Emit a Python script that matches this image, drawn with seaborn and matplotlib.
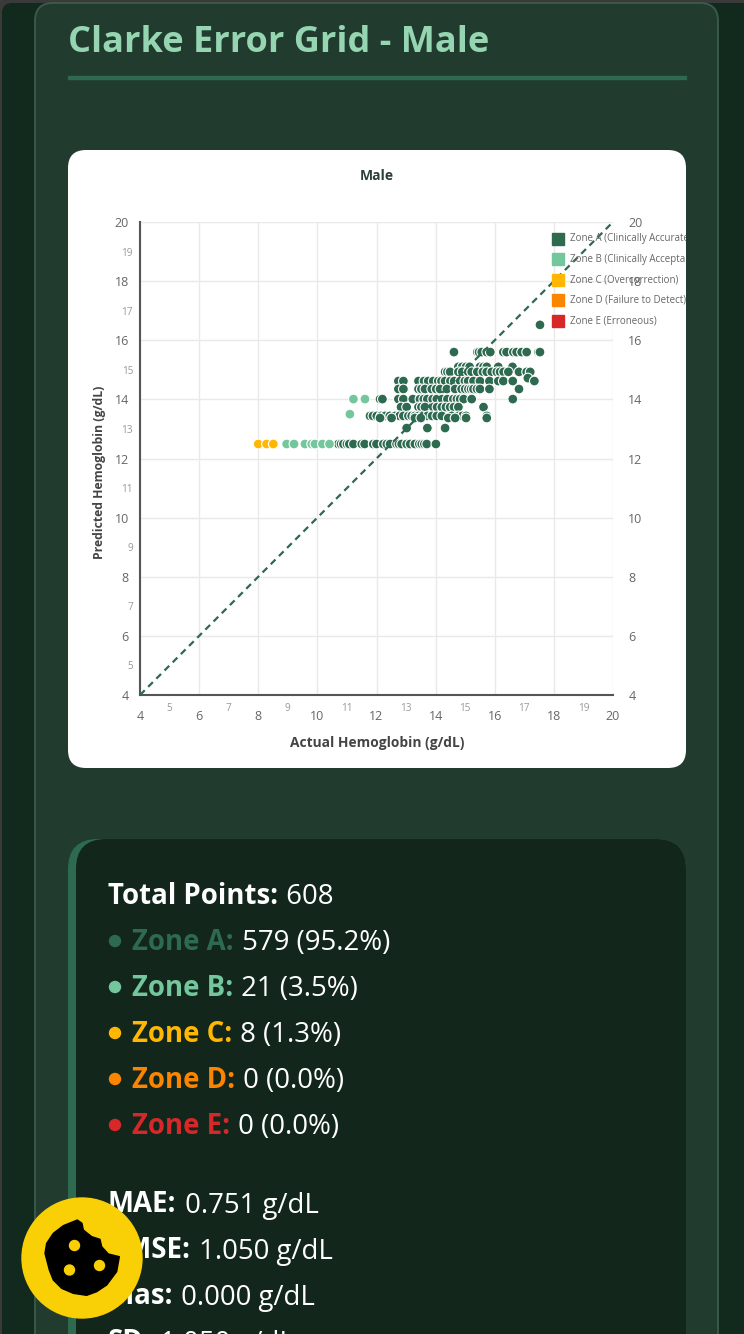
import numpy as np
import pandas as pd
import seaborn as sns
import matplotlib.pyplot as plt
from matplotlib.patches import FancyBboxPatch, Rectangle, Circle, Polygon

W, H = 744, 1334
FONT = ['Open Sans', 'DejaVu Sans']

# predicted value of each row, and the actual values
zone_a_rows = {
    16.52: [17.53],
    15.60: [14.62, 15.41, 15.47, 15.56, 15.73, 15.85, 16.29, 16.40, 16.63, 16.74, 16.91, 17.08, 17.48, 17.53],
    15.10: [14.77, 14.90, 15.03, 15.15, 15.50, 15.62, 15.73, 16.12, 16.60],
    14.93: [14.32, 14.40, 14.49, 14.77, 14.90, 15.10, 15.22, 15.41, 15.60, 15.73, 15.90, 16.07, 16.18, 16.30, 16.46, 16.82, 17.08, 17.20],
    14.72: [17.12],
    14.62: [12.74, 12.91, 13.42, 13.61, 13.75, 13.92, 14.09, 14.20, 14.32, 14.50, 14.63, 14.83, 14.99, 15.10, 15.28, 15.50, 15.82, 16.12, 16.29, 16.61, 17.34],
    14.35: [12.74, 12.91, 13.42, 13.52, 13.64, 13.87, 14.02, 14.15, 14.38, 14.66, 14.88, 15.00, 15.11, 15.20, 15.28, 15.40, 15.50, 15.82, 16.82],
    14.01: [12.12, 12.20, 12.74, 12.91, 13.23, 13.47, 13.60, 13.72, 13.90, 14.04, 14.22, 14.40, 14.60, 14.72, 14.83, 14.95, 15.22, 16.61],
    13.74: [12.83, 13.02, 13.42, 13.52, 13.64, 13.92, 14.05, 14.21, 14.35, 14.49, 14.62, 14.77, 15.62],
    13.44: [11.78, 11.88, 12.01, 12.15, 12.29, 12.45, 12.63, 12.78, 12.91, 13.08, 13.19, 13.30, 13.42, 13.55, 13.72, 13.88, 14.04, 14.21, 14.54, 14.77, 14.90, 15.03, 15.73],
    13.37: [12.12, 12.51, 13.30, 13.50, 14.43, 14.66, 15.03, 15.73],
    13.03: [13.02, 13.72, 14.32],
    12.49: [10.71, 10.80, 10.88, 11.00, 11.08, 11.22, 11.50, 11.60, 11.89, 12.00, 12.23, 12.35, 12.46, 12.68, 12.76, 12.85, 13.02, 13.14, 13.30, 13.45, 13.53, 13.62, 13.70, 14.01],
}
zone_b_rows = {
    14.01: [11.22, 11.61],
    13.50: [11.10],
    12.49: [8.96, 9.21, 9.58, 9.81, 9.92, 10.17, 10.41],
}
zone_c_rows = {
    12.49: [8.00, 8.28, 8.51],
}
diagonal = [4, 20]
major_ticks = [4, 6, 8, 10, 12, 14, 16, 18, 20]
minor_ticks = [5, 7, 9, 11, 13, 15, 17, 19]
legend_labels = ['Zone A (Clinically Accurate)', 'Zone B (Clinically Acceptable)',
                 'Zone C (Overcorrection)', 'Zone D (Failure to Detect)', 'Zone E (Erroneous)']
zone_colors = ['#2d6a4f', '#74c69d', '#ffb703', '#fb8500', '#d62828']

rows = []
for zone, table in zip(['A', 'B', 'C'], [zone_a_rows, zone_b_rows, zone_c_rows]):
    for pred, actuals in table.items():
        for act in actuals:
            rows.append({'actual': act, 'predicted': pred, 'zone': zone})
df = pd.DataFrame(rows)

sns.set_style('white')
plt.rcParams['font.family'] = FONT

fig = plt.figure(figsize=(W / 100, H / 100), dpi=100)

# page behind the chart, in pixel coordinates
bg = fig.add_axes([0, 0, 1, 1], zorder=0)
bg.set_xlim(0, W)
bg.set_ylim(H, 0)
bg.axis('off')
bg.add_patch(Rectangle((0, 0), W, H, color='#3a3a3a'))
bg.add_patch(FancyBboxPatch((2, 3), W + 40, H + 40, boxstyle='round,pad=0,rounding_size=10',
                            fc='#12291d', ec='none', lw=0))
bg.add_patch(FancyBboxPatch((35, 3), 683, H + 60, boxstyle='round,pad=0,rounding_size=18',
                            fc='#213b2e', ec='#3a5c4a', lw=1.3))
bg.add_patch(Rectangle((68, 76), 618, 3, color='#2d6a4f'))
bg.text(68, 52, 'Clarke Error Grid - Male', color='#95d5b2', fontsize=26, fontweight='bold', va='baseline')

bg.add_patch(FancyBboxPatch((68, 150), 618, 618, boxstyle='round,pad=0,rounding_size=18', fc='white', ec='none'))
bg.add_patch(FancyBboxPatch((68, 839), 618, H, boxstyle='round,pad=0,rounding_size=30', fc='#2d6a4f', ec='none'))
bg.add_patch(FancyBboxPatch((76, 839), 610, H, boxstyle='round,pad=0,rounding_size=30', fc='#12261b', ec='none'))

bg.text(377, 176.5, 'Male', color='#2b4036', fontsize=10, fontweight='bold', ha='center', va='center')
bg.text(377, 743, 'Actual Hemoglobin (g/dL)', color='#444444', fontsize=9.9, fontweight='bold', ha='center', va='center')
bg.text(100, 472, 'Predicted Hemoglobin (g/dL)', color='#444444', fontsize=8.8, fontweight='bold', ha='center', va='center', rotation=90)

# stats block
stats = [
    (895, 'Total Points:', ' 608', '#ffffff', None),
    (941, 'Zone A:', ' 579 (95.2%)', '#2d6a4f', '#2d6a4f'),
    (987, 'Zone B:', ' 21 (3.5%)', '#74c69d', '#74c69d'),
    (1033, 'Zone C:', ' 8 (1.3%)', '#ffb703', '#ffb703'),
    (1079, 'Zone D:', ' 0 (0.0%)', '#fb8500', '#fb8500'),
    (1125, 'Zone E:', ' 0 (0.0%)', '#d62828', '#d62828'),
    (1204, 'MAE:', ' 0.751 g/dL', '#ffffff', None),
    (1250, 'RMSE:', ' 1.050 g/dL', '#ffffff', None),
    (1296, 'Bias:', ' 0.000 g/dL', '#ffffff', None),
    (1342, 'SD:', ' 1.050 g/dL', '#ffffff', None),
]
renderer = fig.canvas.get_renderer()
for y, head, tail, col, dot in stats:
    x = 108
    if dot:
        bg.add_patch(Circle((115, y), 5.5, color=dot))
        x = 132
    t = bg.text(x, y + 8.5, head, color=col, fontsize=19.9, fontweight='bold', va='baseline')
    ext = t.get_window_extent(renderer)
    bg.text(ext.x1 + 1, y + 8.5, tail, color='white', fontsize=19.9, va='baseline')

# chart
ax = fig.add_axes([140 / W, 1 - 695 / H, 473 / W, 473 / H], zorder=1)
ax.patch.set_alpha(0)
sns.scatterplot(data=df, x='actual', y='predicted', hue='zone',
                palette={'A': zone_colors[0], 'B': zone_colors[1], 'C': zone_colors[2]},
                s=50, edgecolor='white', linewidth=0.8, legend=False, clip_on=False, zorder=3, ax=ax)
sns.lineplot(x=diagonal, y=diagonal, color='#2d6a4f', lw=1.6, ax=ax, zorder=4,
             linestyle=(0, (3, 2.2)), errorbar=None)
ax.set_xlim(4, 20)
ax.set_ylim(4, 20)
ax.set_xlabel('')
ax.set_ylabel('')
ax.set_xticks(major_ticks)
ax.set_yticks(major_ticks)
ax.set_xticks(minor_ticks, [str(v) for v in minor_ticks], minor=True)
ax.set_yticks(minor_ticks, [str(v) for v in minor_ticks], minor=True)
ax.grid(True, which='major', color='#e9e9e9', lw=1)
ax.set_axisbelow(True)
ax.tick_params(which='major', length=0, labelsize=9, labelcolor='#666666', left=True, bottom=True)
ax.tick_params(which='minor', length=0, labelsize=7.2, labelcolor='#999999')
ax.tick_params(axis='x', which='major', pad=11)
ax.tick_params(axis='x', which='minor', pad=5.5)
ax.tick_params(axis='y', which='major', pad=8)
ax.tick_params(axis='y', which='minor', pad=5)
for side in ['top', 'right']:
    ax.spines[side].set_visible(False)
for side in ['left', 'bottom']:
    ax.spines[side].set_color('#555555')
    ax.spines[side].set_linewidth(1.5)

right = ax.twinx()
right.set_ylim(4, 20)
right.set_yticks(major_ticks)
right.tick_params(length=0, labelsize=9, labelcolor='#666666', pad=11)
right.patch.set_alpha(0)
right.grid(False)
for s in right.spines.values():
    s.set_visible(False)

# legend runs off the white card, so clip it there
top = fig.add_axes([0, 0, 1, 1], zorder=2)
top.set_xlim(0, W)
top.set_ylim(H, 0)
top.axis('off')
clip = Rectangle((68, 150), 618, 618, transform=top.transData)
for i, (lab, col) in enumerate(zip(legend_labels, zone_colors)):
    yy = 238.5 + i * 20.6
    top.add_patch(Rectangle((552, yy - 6), 12, 12, color=col))
    t = top.text(570.5, yy, lab, color='#666666', fontsize=7.05, va='center', clip_on=True)
    t.set_clip_path(clip)

# cookie button
top.add_patch(Circle((82, 1258), 60, color='#f9cf06', zorder=5))
cookie = np.array([(135, 340), (140, 310), (160, 280), (190, 257), (232, 240), (246, 250), (250, 270),
                   (275, 290), (300, 298), (305, 320), (325, 342), (358, 350), (350, 395), (320, 435),
                   (290, 455), (260, 466), (220, 460), (185, 445), (160, 420), (148, 390)]) / 3 + [0, 1140]
top.add_patch(Polygon(cookie, closed=True, fc='black', ec='black', lw=1, joinstyle='round', zorder=6))
for cx, cy in [(74.5, 1245.5), (69.5, 1270), (99.5, 1265.5)]:
    top.add_patch(Circle((cx, cy), 5, color='#f9cf06', zorder=7))

fig.savefig('out.png', dpi=100)
